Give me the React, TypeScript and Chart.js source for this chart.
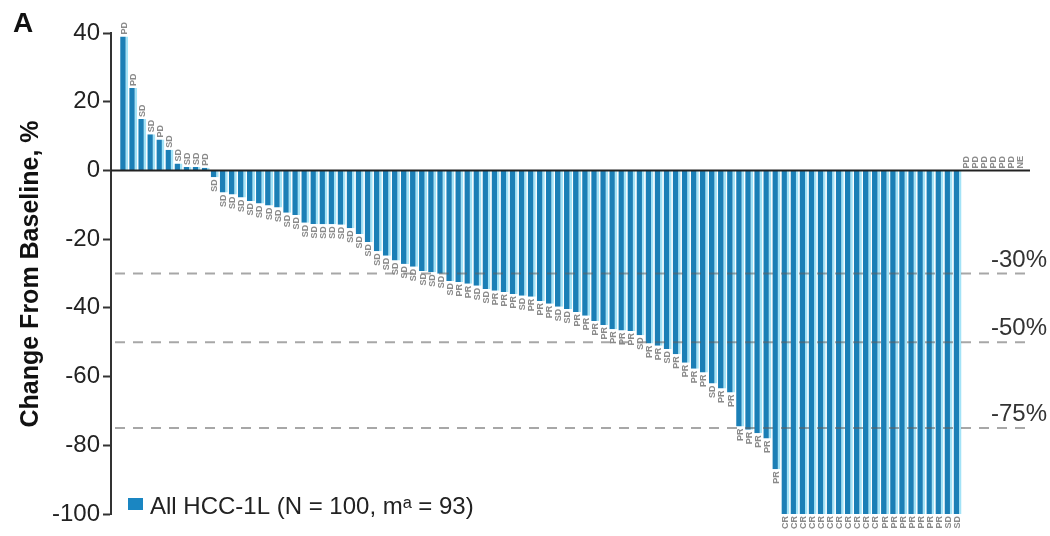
import React, { useEffect, useRef } from "react";
import { Chart, registerables } from "chart.js";

Chart.register(...registerables);

// Best % change from baseline in target lesion sum, sorted (measured patients, m = 93)
const measuredChange: number[] = [
  39, 24, 15, 10.5, 9, 6, 2, 1, 1, 0.8,
  -2, -6.4, -7, -7.9, -8.9, -9.6, -10.2, -10.8, -12.3, -13,
  -15.2, -15.6, -15.7, -15.7, -15.8, -16.8, -18.5, -20.8, -23.5, -24.8,
  -26.2, -27.2, -28, -29.3, -29.6, -30.1, -32.2, -32.5, -33, -33.6,
  -34.5, -35, -35.4, -36, -36.5, -36.8, -38, -38.8, -39.7, -40.3,
  -41.2, -42.3, -43.8, -45, -46.2, -46.6, -46.7, -48, -50.4, -51,
  -52, -53.5, -56, -57.7, -58.8, -62, -63.5, -64.6, -74.5, -75.5,
  -76.5, -78, -87, -100, -100, -100, -100, -100, -100, -100,
  -100, -100, -100, -100, -100, -100, -100, -100, -100, -100,
  -100, -100, -100,
];

// Best overall response per patient (N = 100); last 7 have no post-baseline measurement
const bestResponse: string[] = [
  "PD", "PD", "SD", "SD", "PD", "SD", "SD", "SD", "SD", "PD",
  "SD", "SD", "SD", "SD", "SD", "SD", "SD", "SD", "SD", "SD",
  "SD", "SD", "SD", "SD", "SD", "SD", "SD", "SD", "SD", "SD",
  "SD", "SD", "SD", "SD", "SD", "SD", "SD", "PR", "PR", "SD",
  "SD", "PR", "PR", "PR", "SD", "PR", "PR", "PR", "SD", "SD",
  "PR", "PR", "PR", "PR", "PR", "PR", "PR", "SD", "PR", "PR",
  "SD", "PR", "PR", "PR", "PR", "SD", "PR", "PR", "PR", "PR",
  "PR", "PR", "PR", "CR", "CR", "CR", "CR", "CR", "CR", "CR",
  "CR", "CR", "CR", "CR", "PR", "PR", "PR", "PR", "PR", "PR",
  "PR", "SD", "SD", "PD", "PD", "PD", "PD", "PD", "PD", "NE",
];

const thresholdValues: number[] = [-30, -50, -75];
const thresholdLabels: string[] = ["-30%", "-50%", "-75%"];

const yMin = -100;
const yMax = 40;
const yStep = 20;

const panelLetter = "A";
const yTitle = "Change From Baseline, %";
const legendText = "All HCC-1L (N = 100, m\u1d43 = 93)";

const FONT = "'Liberation Sans', Arial, Helvetica, sans-serif";
const BAR_DARK = "#1b7fb6";
const BAR_LIGHT = "#a3e3f7";

export default function App() {
  const canvasRef = useRef<HTMLCanvasElement | null>(null);

  useEffect(() => {
    document.body.style.margin = "0";
    const canvas = canvasRef.current;
    if (!canvas) return;

    const overlay = {
      id: "overlay",
      afterDatasetsDraw(chart: any) {
        const ctx = chart.ctx as CanvasRenderingContext2D;
        const { left, right } = chart.chartArea;
        const xs = chart.scales.x;
        const ys = chart.scales.y;
        ctx.save();

        // threshold dashed lines
        ctx.setLineDash([10, 8]);
        ctx.lineWidth = 2;
        ctx.strokeStyle = "rgba(95,95,95,0.55)";
        thresholdValues.forEach((v) => {
          const y = ys.getPixelForValue(v);
          ctx.beginPath();
          ctx.moveTo(left + 4, y);
          ctx.lineTo(right, y);
          ctx.stroke();
        });
        ctx.setLineDash([]);

        // zero line
        const y0 = ys.getPixelForValue(0);
        ctx.strokeStyle = "#222";
        ctx.lineWidth = 2;
        ctx.beginPath();
        ctx.moveTo(left, y0);
        ctx.lineTo(right, y0);
        ctx.stroke();

        // threshold labels
        ctx.fillStyle = "#333";
        ctx.font = `24px ${FONT}`;
        ctx.textAlign = "right";
        ctx.textBaseline = "alphabetic";
        thresholdValues.forEach((v, i) => {
          const y = ys.getPixelForValue(v);
          ctx.fillText(thresholdLabels[i], 1047, y - 7);
        });

        // response labels
        ctx.font = `bold 9px ${FONT}`;
        ctx.fillStyle = "#8a8a8a";
        ctx.textBaseline = "middle";
        bestResponse.forEach((lab, i) => {
          const x = xs.getPixelForValue(i);
          const v = i < measuredChange.length ? measuredChange[i] : 0;
          const yEnd = ys.getPixelForValue(v);
          ctx.save();
          if (v >= 0) {
            ctx.translate(x, yEnd - 2);
            ctx.rotate(-Math.PI / 2);
            ctx.textAlign = "left";
          } else {
            ctx.translate(x, yEnd + 2);
            ctx.rotate(-Math.PI / 2);
            ctx.textAlign = "right";
          }
          ctx.fillText(lab, 0, 0);
          ctx.restore();
        });

        // panel letter
        ctx.fillStyle = "#111";
        ctx.font = `bold 28px ${FONT}`;
        ctx.textAlign = "left";
        ctx.textBaseline = "alphabetic";
        ctx.fillText(panelLetter, 13, 32);

        // y title
        ctx.save();
        ctx.translate(31, 274);
        ctx.rotate(-Math.PI / 2);
        ctx.font = `bold 25px ${FONT}`;
        ctx.textAlign = "center";
        ctx.textBaseline = "middle";
        ctx.fillStyle = "#111";
        ctx.fillText(yTitle, 0, 0);
        ctx.restore();

        // legend
        ctx.fillStyle = "#1a86c2";
        ctx.fillRect(128, 498, 15, 12);
        ctx.fillStyle = "#222";
        ctx.font = `24px ${FONT}`;
        ctx.textAlign = "left";
        ctx.textBaseline = "alphabetic";
        ctx.fillText(legendText, 150, 514);

        ctx.restore();
      },
    };

    const chart = new Chart(canvas, {
      type: "bar",
      data: {
        datasets: [
          {
            label: "All HCC-1L",
            data: measuredChange.map((v, i) => ({ x: i, y: v })),
            backgroundColor: BAR_DARK,
            borderColor: BAR_LIGHT,
            borderWidth: { left: 0, right: 2.5, top: 0, bottom: 0 },
            borderSkipped: false,
            barPercentage: 0.88,
            categoryPercentage: 1,
          },
        ],
      },
      options: {
        animation: false,
        responsive: true,
        maintainAspectRatio: false,
        layout: { padding: { top: 33, bottom: 22, right: 20, left: 0 } },
        plugins: {
          legend: { display: false },
          tooltip: { enabled: false },
        },
        scales: {
          x: {
            type: "linear",
            min: -1.45,
            max: bestResponse.length,
            display: false,
            offset: false,
          },
          y: {
            min: yMin,
            max: yMax,
            afterFit: (s: any) => {
              s.width = 111;
            },
            ticks: {
              stepSize: yStep,
              color: "#222",
              font: { size: 24, family: FONT },
              padding: 3,
            },
            grid: {
              drawOnChartArea: false,
              tickLength: 8,
              tickColor: "#333",
              tickWidth: 2,
            },
            border: { display: true, color: "#333", width: 2 },
          },
        },
      },
      plugins: [overlay],
    });

    return () => chart.destroy();
  }, []);

  return (
    <div style={{ width: 1050, height: 536, position: "relative" }}>
      <canvas ref={canvasRef} />
    </div>
  );
}
